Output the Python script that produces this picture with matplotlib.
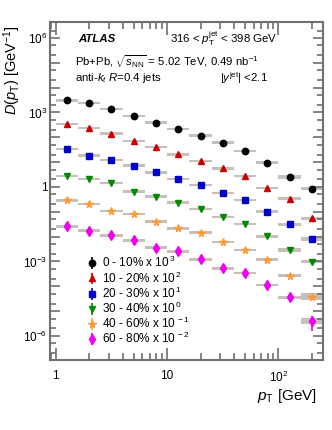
import numpy as np
import matplotlib
matplotlib.use("Agg")
import matplotlib.pyplot as plt
from matplotlib.ticker import LogLocator, NullFormatter, FixedLocator, FixedFormatter

plt.rcParams['font.family'] = ['Liberation Sans', 'DejaVu Sans']
plt.rcParams['mathtext.fontset'] = 'custom'
plt.rcParams['mathtext.rm'] = 'Liberation Sans'
plt.rcParams['mathtext.it'] = 'Liberation Sans:italic'
plt.rcParams['mathtext.bf'] = 'Liberation Sans:bold'

# bin edges in track pT [GeV]
bin_edges = [1.0, 1.585, 2.512, 3.981, 6.31, 10.0, 15.85, 25.12, 39.81, 63.1, 100.0, 158.5, 251.2]

labels = ["0 - 10% x 10$^{\\,3}$", "10 - 20% x 10$^{\\,2}$", "20 - 30% x 10$^{\\,1}$",
          "30 - 40% x 10$^{\\,0}$", "40 - 60% x 10$^{\\,-1}$", "60 - 80% x 10$^{\\,-2}$"]

# log10 of the scaled D(pT) values
logd_0_10 = [3.49, 3.39, 3.13, 2.86, 2.59, 2.34, 2.07, 1.79, 1.44, 0.98, 0.40, -0.07]
logd_10_20 = [2.54, 2.38, 2.15, 1.84, 1.60, 1.31, 1.05, 0.75, 0.43, -0.04, -0.48, -1.27]
logd_20_30 = [1.53, 1.26, 1.09, 0.86, 0.59, 0.32, 0.08, -0.24, -0.52, -1.00, -1.51, -2.11]
logd_30_40 = [0.44, 0.31, 0.15, -0.19, -0.39, -0.63, -0.89, -1.20, -1.49, -1.98, -2.54, -3.01]
logd_40_60 = [-0.54, -0.69, -0.97, -1.09, -1.40, -1.67, -1.84, -2.22, -2.54, -2.93, -3.58, -4.42]
logd_60_80 = [-1.59, -1.76, -1.95, -2.15, -2.44, -2.60, -2.92, -3.28, -3.46, -3.95, -4.44, -5.40]

# relative systematic uncertainty per bin, last bin given per centrality
sys_rel = [0.12, 0.12, 0.12, 0.12, 0.12, 0.12, 0.12, 0.12, 0.12, 0.14, 0.16, 0.2]
sys_last = [0.18, 0.15, 0.22, 0.15, 0.38, 0.33]
# relative statistical uncertainty, last bin per centrality
stat_rel = [0.01, 0.01, 0.01, 0.01, 0.01, 0.01, 0.01, 0.02, 0.03, 0.05, 0.08, 0.12]
stat_last = [0.1, 0.1, 0.1, 0.1, 0.15, 0.6]

colors = ["black", "#cc0000", "#0000cc", "#008a00", "#ff9933", "#ee00ee"]
markers = ["o", "^", "s", "v", "*", "d"]
msizes = [4.6, 4.6, 4.0, 5.0, 5.6, 4.6]

series = [logd_0_10, logd_10_20, logd_20_30, logd_30_40, logd_40_60, logd_60_80]

edges = np.array(bin_edges)
centers = np.sqrt(edges[:-1] * edges[1:])
widths = edges[1:] - edges[:-1]

fig = plt.figure(figsize=(3.32, 4.30), dpi=100)
ax = fig.add_axes([0.1506, 0.1628, 0.8224, 0.786])
ax.set_xscale("log")
ax.set_yscale("log")

handles = []
for i, logd in enumerate(series):
    y = 10.0 ** np.array(logd)
    s = np.array(sys_rel)
    s[-1] = sys_last[i]
    st = np.array(stat_rel)
    st[-1] = stat_last[i]
    lo = y / (1 + s)
    hi = y * (1 + s)
    ax.bar(edges[:-1], hi - lo, width=widths, bottom=lo, align="edge",
           color="#c8c0b8", edgecolor="none", zorder=1)
    h = ax.errorbar(centers, y, yerr=y * st, fmt=markers[i], color=colors[i],
                    ms=msizes[i], mec=colors[i], elinewidth=1.2, capsize=0,
                    zorder=3, label=labels[i])
    handles.append(h)

ax.set_xlim(0.889, 251.2)
ax.set_ylim(1.07e-7, 4.4e6)

frame_col = "#707070"
for sp in ax.spines.values():
    sp.set_color(frame_col)
    sp.set_linewidth(1.5)

ax.xaxis.set_major_locator(FixedLocator([1, 10, 100]))
ax.xaxis.set_major_formatter(FixedFormatter(["1", "10", "10$^{2}$"]))
ax.xaxis.set_minor_locator(LogLocator(base=10, subs=np.arange(2, 10)))
ax.xaxis.set_minor_formatter(NullFormatter())

ydecades = [10.0 ** k for k in range(-7, 7)]
ylabs = {6: "10$^{6}$", 3: "10$^{3}$", 0: "1", -3: "10$^{-3}$", -6: "10$^{-6}$"}
ax.yaxis.set_major_locator(FixedLocator(ydecades))
ax.yaxis.set_major_formatter(FixedFormatter([ylabs.get(k, "") for k in range(-7, 7)]))
ax.yaxis.set_minor_locator(LogLocator(base=10, subs=[2, 5], numticks=30))
ax.yaxis.set_minor_formatter(NullFormatter())

ax.tick_params(which="both", direction="in", top=True, right=True, color=frame_col,
               labelsize=8.5, width=1.2)
ax.tick_params(axis="x", which="major", length=9, pad=7)
ax.tick_params(axis="x", which="minor", length=5)
ax.tick_params(axis="y", which="major", length=7, pad=2)
ax.tick_params(axis="y", which="minor", length=4)

ax.set_xlabel("$p_{\\rm T}$ [GeV]", fontsize=11, loc="right")
ax.xaxis.set_label_coords(0.978, -0.08)
ax.set_ylabel("$D(p_{\\rm T})$ [GeV$^{-1}$]", fontsize=10.5, loc="top")
ax.yaxis.set_label_coords(-0.1, 0.99)

tr = ax.transAxes
fs = 8.2
ax.text(0.103, 0.95, "ATLAS", transform=tr, fontsize=fs, fontweight="bold",
        fontstyle="italic", va="center")
ax.text(0.44, 0.95, "316 < $p_{\\rm T}^{\\rm jet}$ < 398 GeV", transform=tr,
        fontsize=fs, va="center")
ax.text(0.09, 0.882, "Pb+Pb, $\\sqrt{s_{\\rm NN}}$ = 5.02 TeV, 0.49 nb$^{-1}$",
        transform=tr, fontsize=fs, va="center")
ax.text(0.09, 0.834, "anti-$k_{t}$ $R$=0.4 jets", transform=tr, fontsize=fs,
        va="center")
ax.text(0.623, 0.834, "$|y^{\\rm jet}|$ <2.1", transform=tr, fontsize=fs,
        va="center")

leg = ax.legend(handles=handles, loc="upper left", bbox_to_anchor=(0.14, 0.31),
                frameon=False, fontsize=8.5, handlelength=0.7, handletextpad=0.45,
                labelspacing=0.0, borderaxespad=0, borderpad=0)

fig.savefig("out.png", dpi=100)
